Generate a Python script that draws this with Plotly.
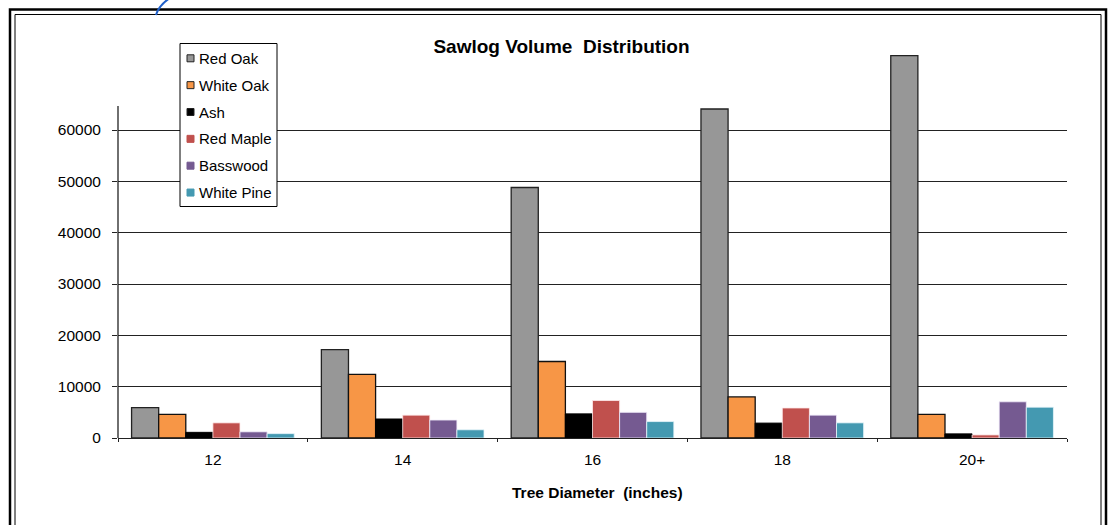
import plotly.graph_objects as go

# ---- data ----
categories = ["12", "14", "16", "18", "20+"]
series_names = ["Red Oak", "White Oak", "Ash", "Red Maple", "Basswood", "White Pine"]
red_oak = [5900, 17200, 48800, 64100, 74500]
white_oak = [4600, 12400, 14900, 8000, 4600]
ash = [1100, 3700, 4700, 2900, 800]
red_maple = [2950, 4450, 7300, 5850, 600]
basswood = [1200, 3500, 5000, 4450, 7050]
white_pine = [850, 1600, 3200, 2950, 6000]
y_tick_vals = [0, 10000, 20000, 30000, 40000, 50000, 60000]
y_tick_text = ["0", "10000", "20000", "30000", "40000", "50000", "60000"]

series_values = [red_oak, white_oak, ash, red_maple, basswood, white_pine]
colors = ["#979797", "#F79646", "#000000", "#C0504D", "#755A91", "#4499B1"]
line_colors = ["#222222", "#111111", "#000000", "rgba(255,235,235,0.8)",
               "rgba(240,235,250,0.8)", "rgba(230,245,250,0.8)"]
line_widths = [1.3, 1.3, 1.0, 1.0, 1.0, 1.0]

FONT = "Arial, 'Liberation Sans', sans-serif"
W, H = 1114, 525
ML, MR, MT, MB = 118, 47, 50, 87
PW, PH = W - ML - MR, H - MT - MB
YMAX = 75590


def px(x):
    return (x - ML) / PW


def py(y):
    return (H - MB - y) / PH


fig = go.Figure()
for name, vals, c, lc, lw in zip(series_names, series_values, colors, line_colors, line_widths):
    fig.add_trace(go.Bar(
        name=name, x=categories, y=vals,
        marker=dict(color=c, line=dict(color=lc, width=lw)),
        showlegend=False,
    ))

shapes = []
# outer double frame
shapes.append(dict(type="rect", xref="paper", yref="paper",
                   x0=px(10), x1=px(1106), y0=py(545), y1=py(9.5),
                   line=dict(color="black", width=2.5), layer="below"))
shapes.append(dict(type="rect", xref="paper", yref="paper",
                   x0=px(15), x1=px(1101), y0=py(545), y1=py(14.5),
                   line=dict(color="black", width=1), layer="below"))
# y-axis line (stops above 60000 like reference)
shapes.append(dict(type="line", xref="x domain", yref="y",
                   x0=0, x1=0, y0=0, y1=64700,
                   line=dict(color="#222222", width=1.3)))
# small blue arc artifact at top
shapes.append(dict(type="path", xref="paper", yref="paper",
                   path=f"M {px(156)},{py(15)} Q {px(159)},{py(5)} {px(170)},{py(-2)}",
                   line=dict(color="#1F5FC8", width=2)))

# manual legend
LX0, LX1, LY0, LY1 = 180, 277, 43.5, 206.5
shapes.append(dict(type="rect", xref="paper", yref="paper",
                   x0=px(LX0), x1=px(LX1), y0=py(LY1), y1=py(LY0),
                   line=dict(color="black", width=1), fillcolor="white"))
annotations = []
item_y0, item_dy = 58.3, 26.85
for i, (name, c) in enumerate(zip(series_names, colors)):
    cy = item_y0 + i * item_dy
    border = "#222222" if i < 3 else c
    shapes.append(dict(type="rect", xref="paper", yref="paper",
                       x0=px(187), x1=px(194), y0=py(cy + 3.5), y1=py(cy - 3.5),
                       line=dict(color=border, width=1), fillcolor=c))
    annotations.append(dict(xref="paper", yref="paper", x=px(197), y=py(cy),
                            text=name, showarrow=False, xanchor="left", yanchor="middle",
                            font=dict(family=FONT, size=15, color="black")))

# x axis title
annotations.append(dict(xref="paper", yref="paper", x=px(597.5), y=py(492),
                        text="Tree Diameter\u00a0 (inches)", showarrow=False,
                        xanchor="center", yanchor="middle",
                        font=dict(family=FONT, size=15.5, color="black", weight="bold")))

fig.update_layout(
    width=W, height=H,
    margin=dict(l=ML, r=MR, t=MT, b=MB, autoexpand=False),
    paper_bgcolor="white", plot_bgcolor="white",
    barmode="group", bargap=0.143, bargroupgap=0,
    title=dict(text="Sawlog Volume\u00a0 Distribution", x=561.5 / W, xref="container",
               y=1 - 46 / H, yref="container", xanchor="center", yanchor="middle",
               font=dict(family=FONT, size=19, color="black", weight="bold")),
    font=dict(family=FONT, size=15, color="black"),
    shapes=shapes, annotations=annotations,
    xaxis=dict(type="category", showgrid=False, showline=True, linecolor="#222222",
               linewidth=1.3, ticks="outside", tickson="boundaries", ticklen=3,
               tickcolor="#222222", tickfont=dict(family=FONT, size=15.5, color="black"),
               ticklabelstandoff=7, automargin=False, zeroline=False),
    yaxis=dict(range=[0, YMAX], tickvals=y_tick_vals, ticktext=y_tick_text,
               showgrid=True, gridcolor="#222222", gridwidth=1.2, showline=False,
               ticks="outside", ticklen=5, tickcolor="#222222",
               tickfont=dict(family=FONT, size=15.5, color="black"),
               ticklabelstandoff=8, automargin=False, zeroline=False),
)

fig.write_html("out.html", config={"displayModeBar": False},
               post_script="document.body.style.margin='0px';")
